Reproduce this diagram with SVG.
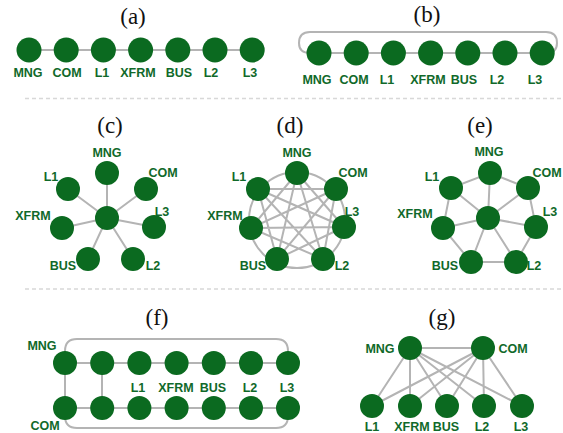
<svg xmlns="http://www.w3.org/2000/svg" width="563" height="433" viewBox="0 0 563 433">
<style>
.n{fill:#0b6a20}
.e{stroke:#b4b4b4;stroke-width:2;fill:none}
.l{font-family:"Liberation Sans",Arial,sans-serif;font-weight:bold;font-size:12.5px;fill:#10692a;text-anchor:middle}
.t{font-family:"Liberation Serif","Times New Roman",serif;font-size:23px;fill:#111;text-anchor:middle}
.sep{stroke:#d8d8d8;stroke-width:1.5;stroke-dasharray:4 3}
</style>
<rect width="563" height="433" fill="#fff"/>
<line class="sep" x1="25" y1="98.5" x2="562" y2="98.5"/>
<line class="sep" x1="25" y1="289" x2="562" y2="289"/>
<g id="titles">
<text class="t" x="133" y="24">(a)</text>
<text class="t" x="427" y="22">(b)</text>
<text class="t" x="110" y="133">(c)</text>
<text class="t" x="290" y="133">(d)</text>
<text class="t" x="480" y="133">(e)</text>
<text class="t" x="157" y="325">(f)</text>
<text class="t" x="442" y="325">(g)</text>
</g>
<g id="connectors">
<!-- a -->
<line class="e" x1="29" y1="50" x2="252" y2="50"/>
<!-- b -->
<line class="e" x1="319" y1="53" x2="542" y2="53"/>
<path class="e" d="M310,53 Q299,53 299,43 Q299,32 310,32 H546 Q557,32 557,43 Q557,53 546,53"/>
<!-- c -->
<path class="e" d="M107,218 L107,173 M107,218 L146,189 M107,218 L154,227 M107,218 L133,259 M107,218 L88,259 M107,218 L62,228 M107,218 L68,189"/>
<!-- d -->
<circle class="e" cx="297" cy="220" r="48"/>
<path class="e" d="M297,173 L344,227 M297,173 L323,259 M297,173 L277,259 M297,173 L251,228 M336,189 L323,259 M336,189 L277,259 M336,189 L251,228 M336,189 L258,189 M344,227 L277,259 M344,227 L251,228 M344,227 L258,189 M323,259 L251,228 M323,259 L258,189 M277,259 L258,189"/>
<!-- e -->
<path class="e" d="M490,173 L528,188 L536,227 L516,262 L471,262 L443,228 L451,188 Z"/>
<path class="e" d="M488,218 L490,173 M488,218 L528,188 M488,218 L536,227 M488,218 L516,262 M488,218 L471,262 M488,218 L443,228 M488,218 L451,188"/>
<!-- f -->
<line class="e" x1="65" y1="363" x2="288" y2="363"/>
<line class="e" x1="65" y1="408" x2="288" y2="408"/>
<line class="e" x1="65" y1="363" x2="65" y2="408"/>
<line class="e" x1="102" y1="363" x2="102" y2="408"/>
<path class="e" d="M65,363 V351 Q65,339 77,339 H276 Q288,339 288,351 V363"/>
<path class="e" d="M65,408 V416 Q65,428 77,428 H276 Q288,428 288,416 V408"/>
<!-- g -->
<path class="e" d="M410,348 L483,348 M410,348 L372,406 M410,348 L410,406 M410,348 L447,406 M410,348 L484,406 M410,348 L522,406 M483,348 L372,406 M483,348 L410,406 M483,348 L447,406 M483,348 L484,406 M483,348 L522,406"/>
</g>
<g id="a">
<circle class="n" cx="29" cy="50" r="12.5"/><circle class="n" cx="66.2" cy="50" r="12.5"/><circle class="n" cx="103.4" cy="50" r="12.5"/><circle class="n" cx="140.6" cy="50" r="12.5"/><circle class="n" cx="177.8" cy="50" r="12.5"/><circle class="n" cx="215" cy="50" r="12.5"/><circle class="n" cx="252.2" cy="50" r="12.5"/>
<text class="l" x="28" y="77">MNG</text><text class="l" x="67" y="77">COM</text><text class="l" x="102" y="77">L1</text><text class="l" x="138" y="77">XFRM</text><text class="l" x="179" y="77">BUS</text><text class="l" x="211" y="77">L2</text><text class="l" x="250" y="77">L3</text>
</g>
<g id="b">
<circle class="n" cx="319" cy="53" r="12.5"/><circle class="n" cx="356.2" cy="53" r="12.5"/><circle class="n" cx="393.4" cy="53" r="12.5"/><circle class="n" cx="430.6" cy="53" r="12.5"/><circle class="n" cx="467.8" cy="53" r="12.5"/><circle class="n" cx="505" cy="53" r="12.5"/><circle class="n" cx="542.2" cy="53" r="12.5"/>
<text class="l" x="317" y="84">MNG</text><text class="l" x="354" y="84">COM</text><text class="l" x="387" y="84">L1</text><text class="l" x="428" y="84">XFRM</text><text class="l" x="464" y="84">BUS</text><text class="l" x="497" y="84">L2</text><text class="l" x="535" y="84">L3</text>
</g>
<g id="c">
<circle class="n" cx="107" cy="218" r="12"/><circle class="n" cx="107" cy="173" r="12"/><circle class="n" cx="146" cy="189" r="12"/><circle class="n" cx="154" cy="227" r="12"/><circle class="n" cx="133" cy="259" r="12"/><circle class="n" cx="88" cy="259" r="12"/><circle class="n" cx="62" cy="228" r="12"/><circle class="n" cx="68" cy="189" r="12"/>
<text class="l" x="107" y="157">MNG</text><text class="l" x="163" y="177">COM</text><text class="l" x="51" y="181">L1</text><text class="l" x="33" y="220">XFRM</text><text class="l" x="162" y="216">L3</text><text class="l" x="63" y="270">BUS</text><text class="l" x="153" y="270">L2</text>
</g>
<g id="d">
<circle class="n" cx="297" cy="173" r="12"/><circle class="n" cx="336" cy="189" r="12"/><circle class="n" cx="344" cy="227" r="12"/><circle class="n" cx="323" cy="259" r="12"/><circle class="n" cx="277" cy="259" r="12"/><circle class="n" cx="251" cy="228" r="12"/><circle class="n" cx="258" cy="189" r="12"/>
<text class="l" x="297" y="157">MNG</text><text class="l" x="353" y="177">COM</text><text class="l" x="239" y="181">L1</text><text class="l" x="225" y="220">XFRM</text><text class="l" x="352" y="216">L3</text><text class="l" x="253" y="270">BUS</text><text class="l" x="342" y="270">L2</text>
</g>
<g id="e">
<circle class="n" cx="488" cy="218" r="12"/><circle class="n" cx="490" cy="173" r="12"/><circle class="n" cx="528" cy="188" r="12"/><circle class="n" cx="536" cy="227" r="12"/><circle class="n" cx="516" cy="262" r="12"/><circle class="n" cx="471" cy="262" r="12"/><circle class="n" cx="443" cy="228" r="12"/><circle class="n" cx="451" cy="188" r="12"/>
<text class="l" x="489" y="156">MNG</text><text class="l" x="547" y="177">COM</text><text class="l" x="432" y="181">L1</text><text class="l" x="415" y="218">XFRM</text><text class="l" x="550" y="216">L3</text><text class="l" x="445" y="270">BUS</text><text class="l" x="534" y="270">L2</text>
</g>
<g id="f">
<circle class="n" cx="65" cy="363" r="12"/><circle class="n" cx="102.2" cy="363" r="12"/><circle class="n" cx="139.4" cy="363" r="12"/><circle class="n" cx="176.6" cy="363" r="12"/><circle class="n" cx="213.8" cy="363" r="12"/><circle class="n" cx="251" cy="363" r="12"/><circle class="n" cx="288" cy="363" r="12"/>
<circle class="n" cx="65" cy="408" r="12"/><circle class="n" cx="102.2" cy="408" r="12"/><circle class="n" cx="139.4" cy="408" r="12"/><circle class="n" cx="176.6" cy="408" r="12"/><circle class="n" cx="213.8" cy="408" r="12"/><circle class="n" cx="251" cy="408" r="12"/><circle class="n" cx="288" cy="408" r="12"/>
<text class="l" x="42" y="350">MNG</text><text class="l" x="45" y="430">COM</text><text class="l" x="138" y="392">L1</text><text class="l" x="176" y="392">XFRM</text><text class="l" x="213" y="392">BUS</text><text class="l" x="250" y="392">L2</text><text class="l" x="287" y="392">L3</text>
</g>
<g id="g">
<circle class="n" cx="410" cy="348" r="12"/><circle class="n" cx="483" cy="348" r="12"/>
<circle class="n" cx="372" cy="406" r="12"/><circle class="n" cx="410" cy="406" r="12"/><circle class="n" cx="447" cy="406" r="12"/><circle class="n" cx="484" cy="406" r="12"/><circle class="n" cx="522" cy="406" r="12"/>
<text class="l" x="380" y="353">MNG</text><text class="l" x="513" y="353">COM</text><text class="l" x="372" y="431">L1</text><text class="l" x="412" y="431">XFRM</text><text class="l" x="446" y="431">BUS</text><text class="l" x="482" y="431">L2</text><text class="l" x="521" y="431">L3</text>
</g>
</svg>
